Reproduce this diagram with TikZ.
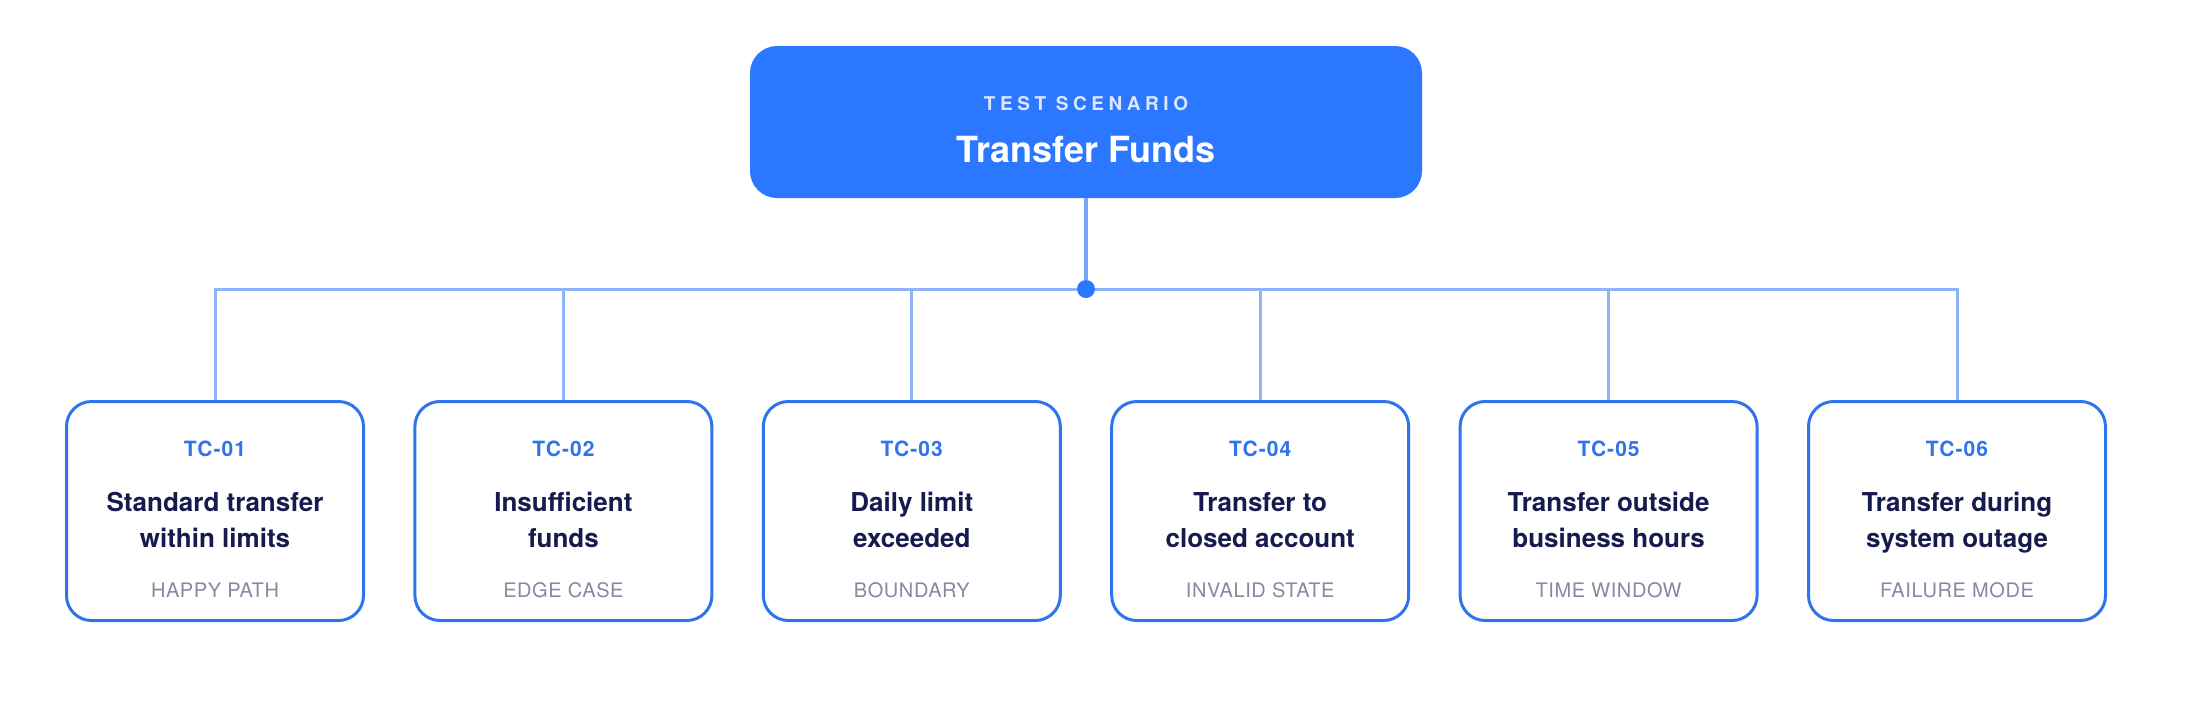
\documentclass[tikz,border=0pt]{standalone}
\usepackage{fontspec}
\setmainfont{TeX Gyre Heros}

\definecolor{scenblue}{HTML}{2B77FF}
\definecolor{caseblue}{HTML}{2F74EC}
\definecolor{linkblue}{HTML}{8DB4F8}
\definecolor{stemblue}{HTML}{76A6F9}
\definecolor{titlenavy}{HTML}{161B4D}
\definecolor{kindgray}{HTML}{858AA0}
\definecolor{eyebrow}{HTML}{DCE7FF}

\tikzset{
  scenbox/.style={fill=scenblue, rounded corners=13.5pt, minimum width=336pt,
    minimum height=76pt, inner sep=0pt},
  casebox/.style={draw=caseblue, fill=white, line width=1.5pt, rounded corners=12.5pt,
    minimum width=148.5pt, minimum height=109.5pt, inner sep=0pt},
  hubdot/.style={circle, fill=scenblue, minimum size=9pt, inner sep=0pt},
  link/.style={draw=linkblue, line width=1.5pt},
  stem/.style={draw=stemblue, line width=2pt},
  eyebrowtext/.style={anchor=base, inner sep=0pt, text=eyebrow,
    font=\fontsize{9.5}{11}\selectfont\bfseries\addfontfeatures{LetterSpace=24}},
  scentitle/.style={anchor=base, inner sep=0pt, text=white,
    font=\fontsize{18}{21}\selectfont\bfseries},
  caseid/.style={anchor=base, inner sep=0pt, text=caseblue,
    font=\fontsize{10.5}{12}\selectfont\bfseries\addfontfeatures{LetterSpace=5}},
  casetitle/.style={anchor=base, inner sep=0pt, text=titlenavy,
    font=\fontsize{13}{15}\selectfont\bfseries},
  casekind/.style={anchor=base, inner sep=0pt, text=kindgray,
    font=\fontsize{10}{12}\selectfont\addfontfeatures{LetterSpace=3}},
}

\begin{document}
\begin{tikzpicture}[x=0.5pt, y=-0.5pt]
  \useasboundingbox (0,0) rectangle (2186,720);

  % Escenario
  \node[scenbox] (scen) at (1086,122) {};
  \node[eyebrowtext] (scen-tag) at (1086,110) {TEST SCENARIO};
  \node[scentitle] (scen-name) at (1086,162) {Transfer Funds};

  % Nudo central
  \node[hubdot] (hub) at (1086,289) {};
  \draw[stem] (scen.south) -- (hub);

  % Casos de prueba
  \foreach \i/\a/\b/\k in {1/Standard transfer/within limits/HAPPY PATH,
                           2/Insufficient/funds/EDGE CASE,
                           3/Daily limit/exceeded/BOUNDARY,
                           4/Transfer to/closed account/INVALID STATE,
                           5/Transfer outside/business hours/TIME WINDOW,
                           6/Transfer during/system outage/FAILURE MODE} {
    \pgfmathsetmacro\x{215+(\i-1)*348.4}
    \node[casebox] (tc\i) at (\x,511) {};
    \node[caseid] (tc\i-id) at (\x,456) {TC-0\i};
    \node[casetitle] (tc\i-a) at (\x,511) {\a};
    \node[casetitle] (tc\i-b) at (\x,547) {\b};
    \node[casekind] (tc\i-k) at (\x,597) {\k};
    \draw[link] (hub) -| (tc\i.north);
  }
\end{tikzpicture}
\end{document}
